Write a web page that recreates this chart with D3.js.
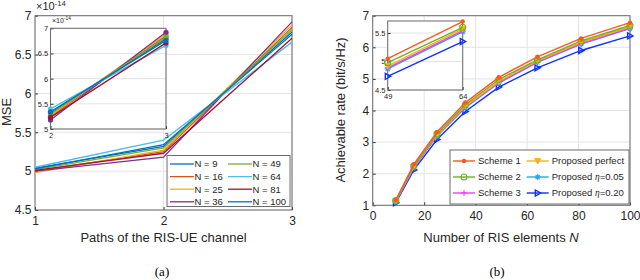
<!DOCTYPE html>
<html>
<head>
<meta charset="utf-8">
<script src="https://cdn.jsdelivr.net/npm/d3@7"></script>
<style>
  body { margin: 0; background: #fff; }
  svg { display: block; font-family: "Liberation Sans", Arial, sans-serif; }
  .tick line { stroke: #333; }
  .domain { display: none; }
</style>
</head>
<body>
<svg id="chart" width="640" height="280"></svg>
<script>
// ---- data: panel (a) ----
const paths = [1, 2, 3];
const nLabels = ["N = 9", "N = 16", "N = 25", "N = 36", "N = 49", "N = 64", "N = 81", "N = 100"];
const nColors = ["#0072BD", "#D95319", "#EDB120", "#7E2F8E", "#77AC30", "#4DBEEE", "#A2142F", "#0072BD"];
const mse9   = [5.04, 5.32, 6.79];
const mse16  = [5.00, 5.25, 6.85];
const mse25  = [4.98, 5.27, 6.88];
const mse36  = [5.00, 5.18, 6.92];
const mse49  = [5.02, 5.30, 6.82];
const mse64  = [5.05, 5.40, 6.66];
const mse81  = [5.01, 5.23, 6.71];
const mse100 = [5.03, 5.34, 6.76];
const mseSeries = [mse9, mse16, mse25, mse36, mse49, mse64, mse81, mse100];
const mseTicks = [4.5, 5, 5.5, 6, 6.5, 7];
const insetTicksA = [5, 5.5, 6, 6.5, 7];

// ---- data: panel (b) ----
const elements = [9, 16, 25, 36, 49, 64, 81, 100];
const scheme1  = [1.17, 2.30, 3.32, 4.25, 5.05, 5.70, 6.28, 6.78];
const scheme2  = [1.15, 2.25, 3.26, 4.18, 4.98, 5.60, 6.20, 6.69];
const perfect  = [1.14, 2.23, 3.23, 4.14, 4.92, 5.57, 6.16, 6.65];
const scheme3  = [1.13, 2.21, 3.21, 4.11, 4.89, 5.54, 6.12, 6.61];
const eta005   = [1.12, 2.20, 3.19, 4.09, 4.87, 5.52, 6.10, 6.59];
const eta020   = [1.08, 2.12, 3.08, 3.97, 4.74, 5.35, 5.90, 6.36];
const rateNames = ["Scheme 1", "Scheme 2", "Scheme 3", "Proposed perfect", "Proposed η=0.05", "Proposed η=0.20"];
const rateColors = ["#FF5722", "#6DB31F", "#FF33FF", "#F5B316", "#1AAEF0", "#1030FF"];
const rateMarkers = ["dot", "circle", "plus", "tridown", "star", "triright"];
const rateSeries = [scheme1, scheme2, scheme3, perfect, eta005, eta020];
const rateXTicks = [0, 20, 40, 60, 80, 100];
const rateYTicks = [1, 2, 3, 4, 5, 6, 7];
const insetXTicksB = [49, 64];
const insetYTicksB = [4.5, 5, 5.5];

const svg = d3.select("#chart");
const gridColor = "#e4e4e4";
const boxColor = "#6b6b6b";

function frame(g, x, y, xt, yt, fs, grid) {
    const [x0, x1] = x.range();
    const [y0, y1] = y.range();
    if (grid) {
        g.append("g").selectAll("line").data(xt).enter().append("line")
            .attr("x1", d => x(d)).attr("x2", d => x(d)).attr("y1", y0).attr("y2", y1)
            .attr("stroke", gridColor);
        g.append("g").selectAll("line").data(yt).enter().append("line")
            .attr("x1", x0).attr("x2", x1).attr("y1", d => y(d)).attr("y2", d => y(d))
            .attr("stroke", gridColor);
    }
    const ax = g.append("g").attr("transform", `translate(0,${y0})`)
        .call(d3.axisBottom(x).tickValues(xt).tickSize(-3).tickPadding(fs * 0.55).tickFormat(d3.format("")));
    const ay = g.append("g").attr("transform", `translate(${x0},0)`)
        .call(d3.axisLeft(y).tickValues(yt).tickSize(-3).tickPadding(fs * 0.3).tickFormat(d3.format("")));
    [ax, ay].forEach(a => a.selectAll("text").attr("font-size", fs).attr("fill", "#262626")
        .attr("font-family", "Liberation Sans, Arial, sans-serif"));
    g.append("rect").attr("x", x0).attr("y", y1).attr("width", x1 - x0).attr("height", y0 - y1)
        .attr("fill", "none").attr("stroke", boxColor).attr("stroke-width", 1);
}

function exponent(g, px, py, fs) {
    const t = g.append("text").attr("x", px).attr("y", py).attr("font-size", fs).attr("fill", "#262626");
    t.append("tspan").text("×10");
    t.append("tspan").attr("dy", -fs * 0.4).attr("font-size", fs * 0.7).text("-14");
}

// ================= panel (a) =================
const xa = d3.scaleLinear().domain([1, 3]).range([35, 292]);
const ya = d3.scaleLinear().domain([4.5, 7]).range([210, 15.7]);
const ga = svg.append("g");
frame(ga, xa, ya, paths, mseTicks, 12, true);
exponent(ga, 36, 10, 11);

const lineA = d3.line().x((d, i) => xa(paths[i])).y(d => ya(d));
ga.append("g").selectAll("path").data(mseSeries).enter().append("path")
    .attr("d", lineA).attr("fill", "none")
    .attr("stroke", (d, i) => nColors[i]).attr("stroke-width", 1.3);

// inset (a): zoom on paths 2..3
const xai = d3.scaleLinear().domain([2, 3]).range([50.5, 166]);
const yai = d3.scaleLinear().domain([5, 7]).range([129, 28.3]);
const gai = ga.append("g");
gai.append("rect").attr("x", 50.5).attr("y", 28.3).attr("width", 115.5).attr("height", 100.7).attr("fill", "#fff");
frame(gai, xai, yai, [2, 3], insetTicksA, 7.5, true);
exponent(gai, 52, 23, 7);
const lineAi = d3.line().x((d, i) => xai(paths[i + 1])).y(d => yai(d));
mseSeries.forEach((s, k) => {
    const pts = s.slice(1);
    gai.append("path").attr("d", lineAi(pts)).attr("fill", "none")
        .attr("stroke", nColors[k]).attr("stroke-width", 1.3);
    gai.append("g").selectAll("circle").data(pts).enter().append("circle")
        .attr("cx", (d, i) => xai(paths[i + 1])).attr("cy", d => yai(d)).attr("r", 2.6)
        .attr("fill", nColors[k]);
});

// legend (a)
const lga = ga.append("g");
lga.append("rect").attr("x", 167).attr("y", 155.5).attr("width", 123).attr("height", 51)
    .attr("fill", "#fff").attr("stroke", boxColor);
nLabels.forEach((lab, i) => {
    const col = Math.floor(i / 4), row = i % 4;
    const lx = 170 + col * 58, ly = 164 + row * 12.6;
    lga.append("line").attr("x1", lx).attr("x2", lx + 24).attr("y1", ly).attr("y2", ly)
        .attr("stroke", nColors[i]).attr("stroke-width", 1.3);
    lga.append("text").attr("x", lx + 24.5).attr("y", ly + 3.4).attr("font-size", 9.5)
        .attr("fill", "#262626").text(lab);
});

ga.append("text").attr("x", 163.5).attr("y", 242).attr("text-anchor", "middle")
    .attr("font-size", 13).attr("fill", "#262626").text("Paths of the RIS-UE channel");
ga.append("text").attr("transform", "translate(11,112) rotate(-90)").attr("text-anchor", "middle")
    .attr("font-size", 13).attr("fill", "#262626").text("MSE");
ga.append("text").attr("x", 162).attr("y", 276).attr("text-anchor", "middle")
    .attr("font-family", "Liberation Serif, Times New Roman, serif").attr("font-size", 13).text("(a)");

// ================= panel (b) =================
const xb = d3.scaleLinear().domain([0, 100]).range([372.7, 630]);
const yb = d3.scaleLinear().domain([1, 7]).range([205.3, 15.7]);
const gb = svg.append("g");
frame(gb, xb, yb, rateXTicks, rateYTicks, 12, true);

function marker(g, type, cx, cy, color, s) {
    if (type === "dot") {
        g.append("circle").attr("cx", cx).attr("cy", cy).attr("r", s * 0.75).attr("fill", color);
    } else if (type === "circle") {
        g.append("circle").attr("cx", cx).attr("cy", cy).attr("r", s).attr("fill", "none")
            .attr("stroke", color).attr("stroke-width", 1.1);
    } else if (type === "plus") {
        g.append("path").attr("d", `M${cx - s},${cy}H${cx + s}M${cx},${cy - s}V${cy + s}`)
            .attr("stroke", color).attr("stroke-width", 1.1);
    } else if (type === "star") {
        g.append("path").attr("d", `M${cx - s},${cy}H${cx + s}M${cx},${cy - s}V${cy + s}` +
            `M${cx - s * 0.7},${cy - s * 0.7}L${cx + s * 0.7},${cy + s * 0.7}M${cx - s * 0.7},${cy + s * 0.7}L${cx + s * 0.7},${cy - s * 0.7}`)
            .attr("stroke", color).attr("stroke-width", 1.1);
    } else if (type === "tridown") {
        g.append("path").attr("d", `M${cx - s},${cy - s * 0.8}L${cx + s},${cy - s * 0.8}L${cx},${cy + s}Z`)
            .attr("fill", color).attr("stroke", color).attr("stroke-width", 1);
    } else if (type === "triright") {
        g.append("path").attr("d", `M${cx - s * 0.8},${cy - s}L${cx + s},${cy}L${cx - s * 0.8},${cy + s}Z`)
            .attr("fill", "none").attr("stroke", color).attr("stroke-width", 1.4);
    }
}

function drawRate(g, x, y, xs, s, k, ms) {
    const ln = d3.line().x((d, i) => x(xs[i])).y(d => y(d));
    g.append("path").attr("d", ln(s)).attr("fill", "none")
        .attr("stroke", rateColors[k]).attr("stroke-width", 1.4);
    s.forEach((v, i) => marker(g, rateMarkers[k], x(xs[i]), y(v), rateColors[k], ms));
}

// lower series first so Scheme 1 sits on top
const order = [5, 4, 2, 3, 1, 0];
const gbl = gb.append("g");
order.forEach(k => drawRate(gbl, xb, yb, elements, rateSeries[k], k, 3));

// inset (b): zoom on N = 49..64
const xbi = d3.scaleLinear().domain([49, 64]).range([387.7, 462.7]);
const ybi = d3.scaleLinear().domain([4.5, 5.71]).range([90, 21]);
const gbi = gb.append("g");
gbi.append("rect").attr("x", 387.7).attr("y", 21).attr("width", 75).attr("height", 69).attr("fill", "#fff");
frame(gbi, xbi, ybi, insetXTicksB, insetYTicksB, 7.5, true);
order.forEach(k => drawRate(gbi, xbi, ybi, insetXTicksB, rateSeries[k].slice(4, 6), k, 3));

// legend (b)
const lgb = gb.append("g");
lgb.append("rect").attr("x", 450).attr("y", 150).attr("width", 179).attr("height", 54)
    .attr("fill", "#fff").attr("stroke", boxColor);
rateNames.forEach((lab, i) => {
    const col = Math.floor(i / 3), row = i % 3;
    const lx = 453 + col * 73.7, ly = 161 + row * 16;
    lgb.append("line").attr("x1", lx).attr("x2", lx + 22).attr("y1", ly).attr("y2", ly)
        .attr("stroke", rateColors[i]).attr("stroke-width", 1.4);
    marker(lgb, rateMarkers[i], lx + 11, ly, rateColors[i], 3);
    const t = lgb.append("text").attr("x", lx + 25).attr("y", ly + 3.4).attr("font-size", 9.5)
        .attr("fill", "#262626");
    if (lab.includes("η")) {
        const parts = lab.split("η");
        t.append("tspan").text(parts[0]);
        t.append("tspan").attr("font-family", "Liberation Serif, serif").attr("font-style", "italic").text("η");
        t.append("tspan").text(parts[1]);
    } else {
        t.text(lab);
    }
});

const xl = gb.append("text").attr("x", 501).attr("y", 242).attr("text-anchor", "middle")
    .attr("font-size", 13).attr("fill", "#262626");
xl.append("tspan").text("Number of RIS elements ");
xl.append("tspan").attr("font-style", "italic").text("N");
gb.append("text").attr("transform", "translate(345,110) rotate(-90)").attr("text-anchor", "middle")
    .attr("font-size", 13).attr("fill", "#262626").text("Achievable rate (bit/s/Hz)");
gb.append("text").attr("x", 497).attr("y", 276).attr("text-anchor", "middle")
    .attr("font-family", "Liberation Serif, Times New Roman, serif").attr("font-size", 13).text("(b)");
</script>
</body>
</html>
